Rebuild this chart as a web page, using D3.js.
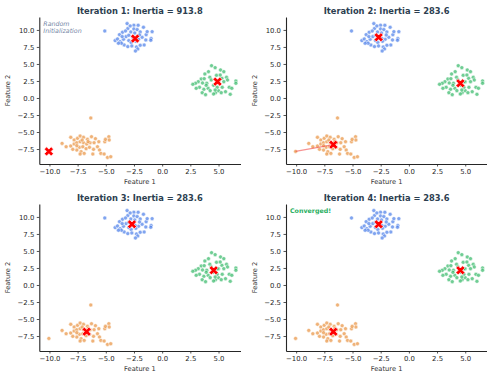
<!DOCTYPE html>
<html>
<head>
<meta charset="utf-8">
<script src="https://cdn.jsdelivr.net/npm/d3@7"></script>
<style>
  body { margin: 0; background: #fff; }
  svg { display: block; font-family: "DejaVu Sans", sans-serif; }
</style>
</head>
<body>
<div id="chart"></div>
<script>
// cluster points (same in every panel)
const blueData = [
  [-5.09, 9.85], [-3.11, 10.93], [-2.51, 10.69], [-2.13, 10.69], [-1.66, 10.39],
  [-2.51, 10.15], [-3.05, 10.2], [-3.52, 9.66], [-3.25, 9.85], [-3.79, 9.31],
  [-2.78, 9.71], [-2.22, 10.05], [-1.95, 9.71], [-1.42, 9.31], [-0.89, 9.75],
  [-0.98, 8.73], [-1.01, 8.48], [-4.17, 8.43], [-3.96, 8.68], [-3.73, 8.28],
  [-3.43, 8.63], [-3.2, 9.02], [-2.96, 8.43], [-2.75, 8.14], [-1.78, 8.92],
  [-1.6, 7.79], [-1.95, 7.75], [-2.28, 7.5], [-2.16, 7.2], [-2.37, 6.91],
  [-3.37, 7.79], [-3.05, 7.55], [-2.69, 7.65], [-3.61, 8.04], [-3.88, 8.04],
  [-2.6, 8.92], [-2.1, 8.63], [-1.45, 8.53], [-1.33, 9.75], [-2.01, 9.26],
  [-2.96, 9.22], [-3.55, 9.02], [-2.34, 8.33], [-2.84, 10.59], [-2.43, 9.56],
  [-2.4, 8.73]
];
const greenData = [
  [4.38, 4.75], [4.7, 4.46], [5.18, 4.12], [5.47, 3.87], [3.79, 3.53],
  [4.23, 3.04], [4.82, 3.33], [5.3, 2.89], [5.71, 3.04], [5.8, 2.65],
  [3.46, 2.79], [3.2, 2.4], [2.96, 2.16], [2.72, 2.01], [3.58, 2.21],
  [3.96, 2.16], [4.35, 2.65], [4.56, 1.86], [5.47, 2.4], [6.54, 2.5],
  [6.54, 2.16], [3.31, 1.57], [3.7, 1.27], [4.08, 1.42], [3.55, 0.78],
  [3.85, 0.49], [4.73, 0.78], [5.0, 1.08], [5.24, 0.78], [5.62, 0.93],
  [6.04, 0.54], [4.88, 1.57], [5.95, 1.57], [4.26, 1.08], [3.91, 1.86],
  [3.02, 1.42], [5.0, 2.4], [6.18, 1.42], [4.7, 1.18], [5.33, 1.57],
  [4.11, 3.87], [3.73, 2.84], [4.56, 0.59], [5.15, 3.38], [4.91, 2.4]
];
const orangeData = [
  [-6.33, -2.94], [-8.88, -6.67], [-8.11, -5.78], [-7.81, -6.18], [-7.51, -5.93],
  [-7.28, -5.59], [-6.98, -5.78], [-6.63, -6.08], [-6.27, -5.69], [-5.92, -5.98],
  [-5.62, -6.42], [-5.09, -6.42], [-4.73, -5.69], [-4.7, -6.18], [-8.52, -7.16],
  [-8.11, -7.06], [-7.81, -6.76], [-7.57, -6.57], [-7.28, -6.42], [-6.98, -6.57],
  [-6.69, -6.76], [-6.39, -6.57], [-6.04, -6.57], [-7.34, -7.25], [-7.04, -7.16],
  [-6.75, -7.45], [-6.45, -7.25], [-7.57, -7.65], [-7.19, -7.89], [-6.92, -8.14],
  [-7.28, -8.24], [-6.15, -8.24], [-5.74, -7.16], [-5.56, -7.65], [-5.44, -8.14],
  [-5.15, -8.24], [-4.85, -8.73], [-4.56, -8.63], [-7.57, -7.01], [-6.57, -6.42],
  [-7.1, -6.18], [-7.93, -7.55], [-6.09, -7.55], [-5.03, -6.08], [-10.05, -7.85]
];

// centroids per iteration: blue, green, orange
const centroids = [
  [[-2.4, 8.73], [4.91, 2.4], [-10.05, -7.85]],
  [[-2.68, 8.92], [4.57, 2.16], [-6.7, -6.86]],
  [[-2.68, 8.92], [4.57, 2.16], [-6.7, -6.86]],
  [[-2.68, 8.92], [4.57, 2.16], [-6.7, -6.86]]
];
const inertias = [913.8, 283.6, 283.6, 283.6];
const xTicks = [-10, -7.5, -5, -2.5, 0, 2.5, 5];
const yTicks = [-7.5, -5, -2.5, 0, 2.5, 5, 7.5, 10];

const width = 487, height = 372;
const W = 201.2, H = 147;
const colors = { blue: "#4a7de8", green: "#33b866", orange: "#e8923e" };

const svg = d3.select("#chart").append("svg")
  .attr("width", width)
  .attr("height", height);

const x = d3.scaleLinear().domain([-10.9, 6.95]).range([0, W]);
const y = d3.scaleLinear().domain([-9.7, 11.9]).range([H, 0]);
const fmt = d3.format(".1f");

const clusters = [
  { data: blueData, color: colors.blue },
  { data: greenData, color: colors.green },
  { data: orangeData, color: colors.orange }
];

const xMark = d3.symbol().type(d3.symbolCross).size(52);

inertias.forEach((inertia, i) => {
  const col = i % 2, row = Math.floor(i / 2);
  const g = svg.append("g")
    .attr("transform", "translate(" + (39.3 + col * 246.7) + "," + (17 + row * 187) + ")");

  // points
  clusters.forEach(c => {
    g.selectAll(null)
      .data(c.data)
      .enter()
      .append("circle")
      .attr("cx", d => x(d[0]))
      .attr("cy", d => y(d[1]))
      .attr("r", 2)
      .attr("fill", c.color)
      .attr("fill-opacity", 0.7)
      .attr("stroke", "#fff")
      .attr("stroke-width", 0.5);
  });

  // centroid trails from the previous iteration
  if (i > 0) {
    centroids[i].forEach((cc, k) => {
      const prev = centroids[i - 1][k];
      g.append("line")
        .attr("x1", x(prev[0])).attr("y1", y(prev[1]))
        .attr("x2", x(cc[0])).attr("y2", y(cc[1]))
        .attr("stroke", "#f03b3b")
        .attr("stroke-opacity", 0.55)
        .attr("stroke-width", 1.4);
    });
  }

  // centroids
  g.selectAll(null)
    .data(centroids[i])
    .enter()
    .append("path")
    .attr("d", xMark)
    .attr("transform", d => "translate(" + x(d[0]) + "," + y(d[1]) + ") rotate(45)")
    .attr("fill", "#ff0000")
    .attr("stroke", "#fff")
    .attr("stroke-width", 0.6);

  // axes
  const xa = g.append("g")
    .attr("transform", "translate(0," + H + ")")
    .call(d3.axisBottom(x).tickValues(xTicks).tickFormat(fmt).tickSize(2.5).tickPadding(2.5).tickSizeOuter(0));
  const ya = g.append("g")
    .call(d3.axisLeft(y).tickValues(yTicks).tickFormat(fmt).tickSize(2.5).tickPadding(2.5).tickSizeOuter(0));
  [xa, ya].forEach(a => {
    a.select(".domain").attr("stroke", "#262626").attr("stroke-width", 1.1);
    a.selectAll(".tick line").attr("stroke", "#262626").attr("stroke-width", 0.8);
    a.selectAll("text").attr("fill", "#262626").style("font-size", "6.9px")
      .style("font-family", "DejaVu Sans");
  });

  g.append("text")
    .attr("x", W / 2).attr("y", H + 19.5)
    .attr("text-anchor", "middle")
    .attr("fill", "#333")
    .style("font-size", "6.7px")
    .text("Feature 1");
  g.append("text")
    .attr("transform", "translate(-29," + (H / 2) + ") rotate(-90)")
    .attr("text-anchor", "middle")
    .attr("fill", "#333")
    .style("font-size", "6.7px")
    .text("Feature 2");

  g.append("text")
    .attr("x", W / 2).attr("y", -3.5)
    .attr("text-anchor", "middle")
    .attr("fill", "#2c3e50")
    .style("font-size", "8.3px")
    .style("font-weight", "bold")
    .text("Iteration " + (i + 1) + ": Inertia = " + inertia.toFixed(1));

  if (i === 0) {
    const t = g.append("text")
      .attr("fill", "#7486a6")
      .style("font-size", "6.3px")
      .style("font-style", "italic");
    t.append("tspan").attr("x", 4).attr("y", 8.5).text("Random");
    t.append("tspan").attr("x", 4).attr("y", 15.5).text("Initialization");
  }
  if (i === 3) {
    g.append("text")
      .attr("x", 4).attr("y", 9)
      .attr("fill", "#27ae60")
      .style("font-size", "6.3px")
      .style("font-weight", "bold")
      .text("Converged!");
  }
});
</script>
</body>
</html>
